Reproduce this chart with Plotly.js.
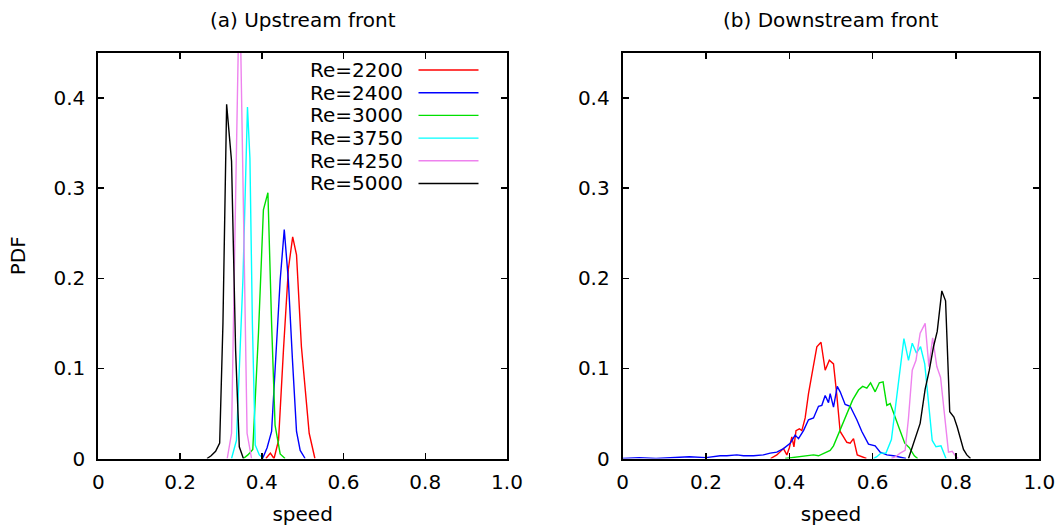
<!DOCTYPE html>
<html>
<head>
<meta charset="utf-8">
<script src="https://cdn.plot.ly/plotly-3.0.1.min.js"></script>
<style>html,body{margin:0;padding:0;background:#fff;}#chart{width:1062px;height:531px;}</style>
</head>
<body>
<div id="chart"></div>
<script>
// ---------- data ----------
const seriesNames = ['Re=2200', 'Re=2400', 'Re=3000', 'Re=3750', 'Re=4250', 'Re=5000'];
const seriesColors = ['#ff0000', '#0000ff', '#00e000', '#00ffff', '#ee82ee', '#000000'];
const panelTitles = ['(a) Upstream front', '(b) Downstream front'];
const speedTickVals = [0, 0.2, 0.4, 0.6, 0.8, 1.0];
const speedTickText = ['0', '0.2', '0.4', '0.6', '0.8', '1.0'];
const pdfTickVals = [0, 0.1, 0.2, 0.3, 0.4];
const pdfTickText = ['0', '0.1', '0.2', '0.3', '0.4'];

// (a) upstream front
const upX2200 = [0.410, 0.421, 0.430, 0.441, 0.453, 0.465, 0.4756, 0.485, 0.497, 0.507, 0.516, 0.530];
const upY2200 = [0, 0.006, 0, 0.020, 0.120, 0.210, 0.246, 0.226, 0.124, 0.070, 0.028, 0];
const upX2400 = [0.402, 0.413, 0.424, 0.435, 0.445, 0.455, 0.465, 0.475, 0.485, 0.494, 0.506];
const upY2400 = [0, 0.012, 0.030, 0.124, 0.198, 0.254, 0.198, 0.110, 0.030, 0.009, 0];
const upX3000 = [0.355, 0.366, 0.378, 0.392, 0.404, 0.415, 0.424, 0.4325, 0.445, 0.457];
const upY3000 = [0, 0.004, 0.010, 0.140, 0.276, 0.295, 0.150, 0.037, 0.005, 0];
const upX3750 = [0.326, 0.338, 0.354, 0.365, 0.371, 0.377, 0.384, 0.394, 0.404];
const upY3750 = [0, 0.020, 0.200, 0.390, 0.333, 0.150, 0.015, 0.004, 0];
const upX4250 = [0.3155, 0.326, 0.336, 0.3456, 0.355, 0.364, 0.375];
const upY4250 = [0, 0.028, 0.290, 0.536, 0.280, 0.028, 0];
const upX5000 = [0.266, 0.276, 0.287, 0.297, 0.305, 0.314, 0.326, 0.336, 0.345, 0.355];
const upY5000 = [0, 0.003, 0.008, 0.017, 0.150, 0.393, 0.330, 0.120, 0.013, 0];

// (b) downstream front
const downX2200 = [0.355, 0.370, 0.386, 0.394, 0.400, 0.406, 0.411, 0.416, 0.424, 0.430, 0.438, 0.446, 0.456, 0.466, 0.476, 0.486, 0.496, 0.506, 0.514, 0.522, 0.530, 0.538, 0.546, 0.554, 0.563, 0.574, 0.585];
const downY2200 = [0, 0.004, 0.011, 0.004, 0.012, 0.024, 0.013, 0.031, 0.033, 0.031, 0.045, 0.072, 0.098, 0.124, 0.129, 0.098, 0.109, 0.105, 0.070, 0.030, 0.024, 0.018, 0.017, 0.022, 0.004, 0.002, 0];
const downX2400 = [0.0, 0.04, 0.08, 0.12, 0.16, 0.20, 0.234, 0.250, 0.274, 0.290, 0.314, 0.338, 0.354, 0.370, 0.386, 0.402, 0.414, 0.422, 0.434, 0.446, 0.458, 0.470, 0.478, 0.486, 0.494, 0.498, 0.506, 0.515, 0.522, 0.534, 0.546, 0.562, 0.574, 0.590, 0.606, 0.618, 0.634, 0.650, 0.666, 0.680];
const downY2400 = [0, 0.001, 0, 0.001, 0.002, 0.001, 0.003, 0.003, 0.004, 0.003, 0.003, 0.004, 0.006, 0.007, 0.011, 0.017, 0.026, 0.022, 0.031, 0.043, 0.045, 0.058, 0.059, 0.070, 0.062, 0.072, 0.057, 0.080, 0.074, 0.060, 0.058, 0.043, 0.030, 0.016, 0.014, 0.007, 0.004, 0.003, 0.001, 0];
const downX3000 = [0.390, 0.430, 0.458, 0.470, 0.486, 0.498, 0.506, 0.515, 0.526, 0.538, 0.552, 0.566, 0.576, 0.586, 0.595, 0.606, 0.616, 0.625, 0.634, 0.642, 0.654, 0.665, 0.677, 0.688, 0.700, 0.708];
const downY3000 = [0, 0.002, 0.004, 0.003, 0.006, 0.009, 0.014, 0.024, 0.035, 0.050, 0.065, 0.076, 0.080, 0.078, 0.084, 0.074, 0.084, 0.085, 0.059, 0.061, 0.047, 0.032, 0.017, 0.012, 0.003, 0];
const downX3750 = [0.602, 0.610, 0.620, 0.632, 0.645, 0.656, 0.666, 0.675, 0.686, 0.695, 0.705, 0.715, 0.725, 0.734, 0.743, 0.752, 0.764, 0.776];
const downY3750 = [0, 0.002, 0.006, 0.006, 0.021, 0.063, 0.098, 0.133, 0.109, 0.128, 0.117, 0.124, 0.105, 0.063, 0.020, 0.013, 0.014, 0];
const downX4250 = [0.645, 0.655, 0.666, 0.678, 0.686, 0.695, 0.704, 0.714, 0.726, 0.735, 0.744, 0.754, 0.763, 0.772, 0.782, 0.791, 0.800, 0.806];
const downY4250 = [0, 0.002, 0.006, 0.009, 0.045, 0.098, 0.109, 0.139, 0.150, 0.102, 0.134, 0.102, 0.090, 0.048, 0.007, 0.008, 0.002, 0];
const downX5000 = [0.686, 0.700, 0.714, 0.726, 0.736, 0.746, 0.755, 0.766, 0.775, 0.785, 0.795, 0.803, 0.810, 0.818, 0.826, 0.835];
const downY5000 = [0, 0.019, 0.039, 0.077, 0.098, 0.124, 0.141, 0.186, 0.175, 0.052, 0.046, 0.035, 0.024, 0.010, 0.004, 0];

const upX = [upX2200, upX2400, upX3000, upX3750, upX4250, upX5000];
const upY = [upY2200, upY2400, upY3000, upY3750, upY4250, upY5000];
const downX = [downX2200, downX2400, downX3000, downX3750, downX4250, downX5000];
const downY = [downY2200, downY2400, downY3000, downY3750, downY4250, downY5000];

// ---------- figure ----------
const W = 1062, H = 531;
const FONT = 'DejaVu Sans, Verdana, sans-serif';
const FS = 20;
const traces = [];
for (let i = 0; i < seriesNames.length; i++) {
  traces.push({x: upX[i], y: upY[i], xaxis: 'x', yaxis: 'y', type: 'scatter', mode: 'lines',
    name: seriesNames[i], showlegend: false, line: {color: seriesColors[i], width: 1.4}});
  traces.push({x: downX[i], y: downY[i], xaxis: 'x2', yaxis: 'y2', type: 'scatter', mode: 'lines',
    name: seriesNames[i], showlegend: false, line: {color: seriesColors[i], width: 1.4}});
}

const yDom = [1 - 458.5 / H, 1 - 53 / H];
function xAxis(dom) {
  return {domain: dom, range: [0, 1], tickvals: speedTickVals, ticktext: speedTickText,
    ticks: 'inside', ticklen: 6, tickwidth: 1.5, tickcolor: '#000', showline: true, linecolor: '#000',
    linewidth: 2, mirror: 'allticks', showgrid: false, zeroline: false, ticklabelstandoff: 4,
    tickfont: {family: FONT, size: FS, color: '#000'},
    title: {text: 'speed', font: {family: FONT, size: FS, color: '#000'}, standoff: 14}};
}
function yAxis(showTitle) {
  return {domain: yDom, range: [0, 0.45], tickvals: pdfTickVals, ticktext: pdfTickText,
    ticks: 'inside', ticklen: 6, tickwidth: 1.5, tickcolor: '#000', showline: true, linecolor: '#000',
    linewidth: 2, mirror: 'allticks', showgrid: false, zeroline: false, ticklabelstandoff: 7,
    tickfont: {family: FONT, size: FS, color: '#000'},
    title: {text: showTitle ? 'PDF' : '', font: {family: FONT, size: FS, color: '#000'}, standoff: 22}};
}

const leftDom = [98.3 / W, 507 / W];
const rightDom = [622.7 / W, 1039.3 / W];

const annotations = [
  {text: panelTitles[0], xref: 'paper', yref: 'paper', x: (leftDom[0] + leftDom[1]) / 2, y: 1 - 20.5 / H,
   showarrow: false, xanchor: 'center', yanchor: 'middle', font: {family: FONT, size: FS, color: '#000'}},
  {text: panelTitles[1], xref: 'paper', yref: 'paper', x: (rightDom[0] + rightDom[1]) / 2, y: 1 - 20.5 / H,
   showarrow: false, xanchor: 'center', yanchor: 'middle', font: {family: FONT, size: FS, color: '#000'}}
];
const shapes = [];
// gnuplot-style key: label right-aligned, line sample to its right
const keyTop = 70, keyStep = 22.7, keyTextRight = 405, keyLineL = 418.5, keyLineR = 478.5;
for (let i = 0; i < seriesNames.length; i++) {
  const yy = 1 - (keyTop + i * keyStep) / H;
  annotations.push({text: seriesNames[i], xref: 'paper', yref: 'paper', x: keyTextRight / W, y: yy,
    showarrow: false, xanchor: 'right', yanchor: 'middle', font: {family: FONT, size: FS, color: '#000'}});
  shapes.push({type: 'line', xref: 'paper', yref: 'paper', x0: keyLineL / W, x1: keyLineR / W, y0: yy, y1: yy,
    line: {color: seriesColors[i], width: 1.4}});
}

const layout = {
  width: W, height: H, margin: {l: 0, r: 0, t: 0, b: 0},
  paper_bgcolor: '#fff', plot_bgcolor: '#fff', showlegend: false,
  font: {family: FONT, size: FS, color: '#000'},
  xaxis: xAxis(leftDom), yaxis: yAxis(true),
  xaxis2: Object.assign(xAxis(rightDom), {anchor: 'y2'}),
  yaxis2: Object.assign(yAxis(false), {anchor: 'x2'}),
  annotations: annotations, shapes: shapes
};
layout.xaxis.anchor = 'y';
layout.yaxis.anchor = 'x';

Plotly.newPlot('chart', traces, layout, {staticPlot: true, displayModeBar: false});
</script>
</body>
</html>
